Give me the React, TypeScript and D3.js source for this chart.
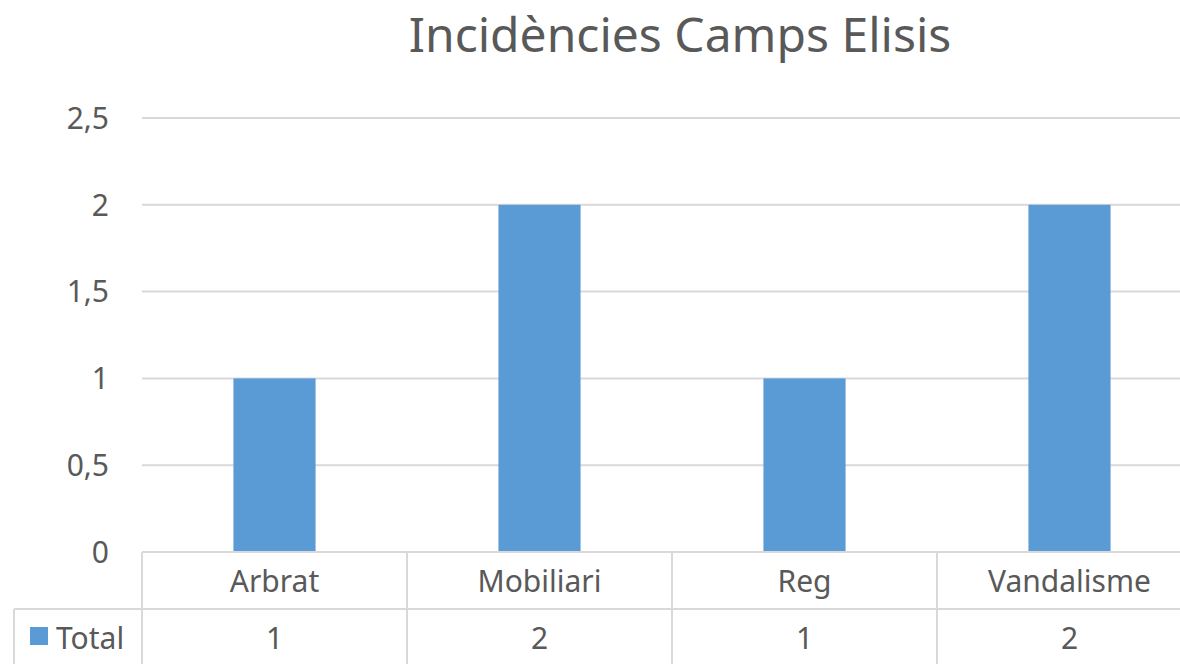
import React, { useEffect, useRef } from 'react';
import * as d3 from 'd3';

const title = 'Incidències Camps Elisis';
const categories = ['Arbrat', 'Mobiliari', 'Reg', 'Vandalisme'];
const totals = [1, 2, 1, 2];
const seriesName = 'Total';
const yTicks = [0, 0.5, 1, 1.5, 2, 2.5];

const App = () => {
    const svgRef = useRef(null);

    useEffect(() => {
        if (!svgRef.current) return;
        document.body.style.margin = '0';

        const width = 1180;
        const height = 664;
        const font = '"Noto Sans", "Open Sans", sans-serif';
        const textColor = '#595959';
        const gridColor = '#d9d9d9';

        const svg = d3.select(svgRef.current);
        svg.selectAll('*').remove();
        svg.attr('width', width).attr('height', height);

        // Scales
        const x = d3.scaleBand().domain(categories).range([142, 1202]).paddingInner(0);
        const y = d3.scaleLinear().domain([0, 2.5]).range([552, 118]);
        const fmt = (d: number) => String(d).replace('.', ',');

        // Title
        svg.append('text')
            .attr('x', 680)
            .attr('y', 52)
            .attr('text-anchor', 'middle')
            .attr('font-family', font)
            .attr('font-size', 48)
            .attr('fill', textColor)
            .text(title);

        // Gridlines + y labels
        const yAxis = svg.append('g');
        yTicks.forEach(t => {
            if (t > 0) {
                yAxis.append('line')
                    .attr('x1', 142).attr('x2', width)
                    .attr('y1', y(t)).attr('y2', y(t))
                    .attr('stroke', gridColor).attr('stroke-width', 2);
            }
            yAxis.append('text')
                .attr('x', 109)
                .attr('y', y(t))
                .attr('dy', '0.36em')
                .attr('text-anchor', 'end')
                .attr('font-family', font)
                .attr('font-size', 30)
                .attr('fill', textColor)
                .text(fmt(t));
        });

        // Bars
        const barW = x.bandwidth() * 0.31;
        svg.append('g')
            .selectAll('rect')
            .data(totals)
            .join('rect')
            .attr('x', (d, i) => x(categories[i]) + (x.bandwidth() - barW) / 2)
            .attr('width', barW)
            .attr('y', d => y(d))
            .attr('height', d => y(0) - y(d))
            .attr('fill', '#5b9bd5');

        // Data table
        const table = svg.append('g');
        const rowTop = y(0);
        const rowMid = 609;
        const line = (x1, y1, x2, y2) => table.append('line')
            .attr('x1', x1).attr('y1', y1).attr('x2', x2).attr('y2', y2)
            .attr('stroke', gridColor).attr('stroke-width', 2);

        line(142, rowTop, 1202, rowTop);
        line(14, rowMid, 1202, rowMid);
        line(14, rowMid, 14, height + 2);
        categories.forEach(c => line(x(c), rowTop, x(c), height + 2));

        categories.forEach((c, i) => {
            const cx = x(c) + x.bandwidth() / 2;
            table.append('text')
                .attr('x', cx).attr('y', 592)
                .attr('text-anchor', 'middle')
                .attr('font-family', font).attr('font-size', 30)
                .attr('fill', textColor)
                .text(c);
            table.append('text')
                .attr('x', cx).attr('y', 649)
                .attr('text-anchor', 'middle')
                .attr('font-family', font).attr('font-size', 30)
                .attr('fill', textColor)
                .text(totals[i]);
        });

        // Legend key
        table.append('rect')
            .attr('x', 30).attr('y', 627)
            .attr('width', 18).attr('height', 18)
            .attr('fill', '#5b9bd5');
        table.append('text')
            .attr('x', 56).attr('y', 649)
            .attr('font-family', font).attr('font-size', 30)
            .attr('fill', textColor)
            .text(seriesName);
    }, []);

    return (
        <div style={{ width: 1180, height: 664, background: '#fff', overflow: 'hidden' }}>
            <svg ref={svgRef} style={{ display: 'block' }}></svg>
        </div>
    );
};

export default App;
